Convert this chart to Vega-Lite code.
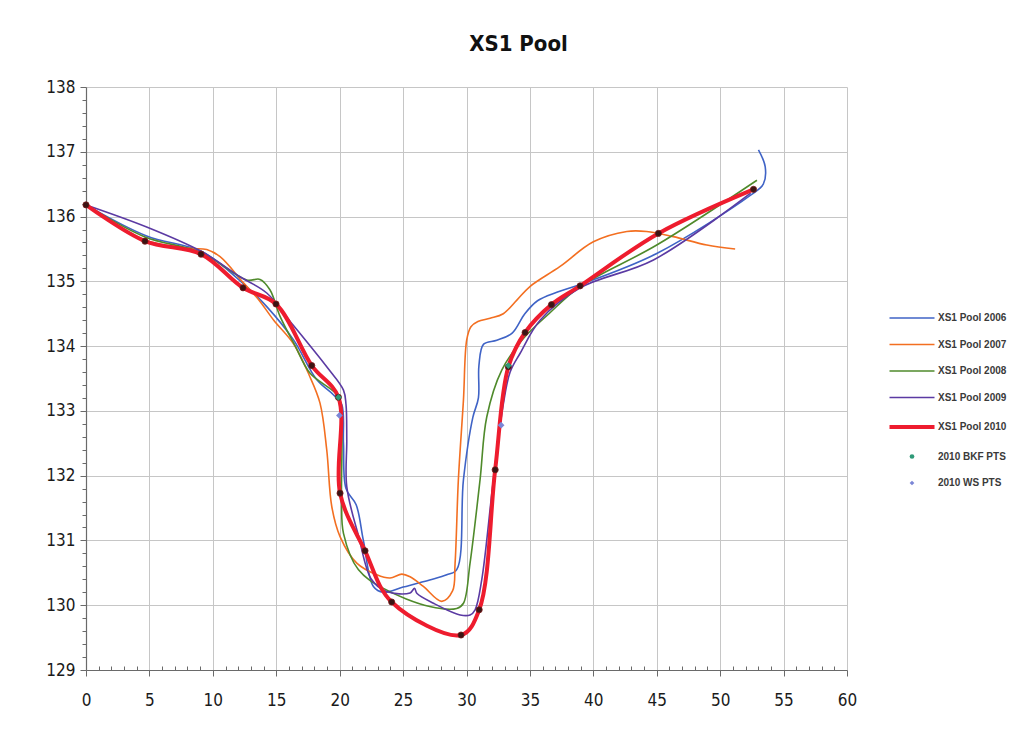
{
  "$schema": "https://vega.github.io/schema/vega-lite/v6.json",
  "width": 761,
  "height": 583,
  "autosize": {"type": "none"},
  "padding": {"left": 86, "top": 87, "right": 179, "bottom": 68},
  "background": "white",
  "config": {"view": {"stroke": null}},
  "title": {"text": "XS1 Pool", "font": "Liberation Sans Narrow, DejaVu Sans Condensed, sans-serif", "fontSize": 22, "fontWeight": "bold", "color": "#111", "anchor": "middle", "frame": "group", "dx": 52, "offset": 22},
  "data": {"values": [
    {"s": "XS1 Pool 2006", "i": 0, "x": 0, "y": 136.18},
    {"s": "XS1 Pool 2006", "i": 1, "x": 4.78, "y": 135.7},
    {"s": "XS1 Pool 2006", "i": 2, "x": 9.12, "y": 135.46},
    {"s": "XS1 Pool 2006", "i": 3, "x": 12.2, "y": 135.0},
    {"s": "XS1 Pool 2006", "i": 4, "x": 14.25, "y": 134.61},
    {"s": "XS1 Pool 2006", "i": 5, "x": 16.35, "y": 134.1},
    {"s": "XS1 Pool 2006", "i": 6, "x": 18.2, "y": 133.48},
    {"s": "XS1 Pool 2006", "i": 7, "x": 19.5, "y": 133.25},
    {"s": "XS1 Pool 2006", "i": 8, "x": 20.16, "y": 133.1},
    {"s": "XS1 Pool 2006", "i": 9, "x": 20.3, "y": 132.5},
    {"s": "XS1 Pool 2006", "i": 10, "x": 20.5, "y": 131.8},
    {"s": "XS1 Pool 2006", "i": 11, "x": 21.3, "y": 131.55},
    {"s": "XS1 Pool 2006", "i": 12, "x": 21.87, "y": 131.0},
    {"s": "XS1 Pool 2006", "i": 13, "x": 22.66, "y": 130.29},
    {"s": "XS1 Pool 2006", "i": 14, "x": 23.45, "y": 130.2},
    {"s": "XS1 Pool 2006", "i": 15, "x": 25.0, "y": 130.28},
    {"s": "XS1 Pool 2006", "i": 16, "x": 27.1, "y": 130.39},
    {"s": "XS1 Pool 2006", "i": 17, "x": 28.44, "y": 130.47},
    {"s": "XS1 Pool 2006", "i": 18, "x": 29.23, "y": 130.55},
    {"s": "XS1 Pool 2006", "i": 19, "x": 29.76, "y": 131.94},
    {"s": "XS1 Pool 2006", "i": 20, "x": 30.5, "y": 132.9},
    {"s": "XS1 Pool 2006", "i": 21, "x": 30.94, "y": 133.2},
    {"s": "XS1 Pool 2006", "i": 22, "x": 30.98, "y": 133.7},
    {"s": "XS1 Pool 2006", "i": 23, "x": 31.35, "y": 134.03},
    {"s": "XS1 Pool 2006", "i": 24, "x": 32.39, "y": 134.09},
    {"s": "XS1 Pool 2006", "i": 25, "x": 33.6, "y": 134.2},
    {"s": "XS1 Pool 2006", "i": 26, "x": 34.6, "y": 134.5},
    {"s": "XS1 Pool 2006", "i": 27, "x": 35.6, "y": 134.7},
    {"s": "XS1 Pool 2006", "i": 28, "x": 37.12, "y": 134.83},
    {"s": "XS1 Pool 2006", "i": 29, "x": 38.96, "y": 134.95},
    {"s": "XS1 Pool 2006", "i": 30, "x": 45.0, "y": 135.43},
    {"s": "XS1 Pool 2006", "i": 31, "x": 52.4, "y": 136.33},
    {"s": "XS1 Pool 2006", "i": 32, "x": 53.4, "y": 136.5},
    {"s": "XS1 Pool 2006", "i": 33, "x": 53.55, "y": 136.77},
    {"s": "XS1 Pool 2006", "i": 34, "x": 53.02, "y": 137.03},
    {"s": "XS1 Pool 2007", "i": 0, "x": 0, "y": 136.18},
    {"s": "XS1 Pool 2007", "i": 1, "x": 4.6, "y": 135.64},
    {"s": "XS1 Pool 2007", "i": 2, "x": 8.2, "y": 135.51},
    {"s": "XS1 Pool 2007", "i": 3, "x": 9.52, "y": 135.49},
    {"s": "XS1 Pool 2007", "i": 4, "x": 10.57, "y": 135.38},
    {"s": "XS1 Pool 2007", "i": 5, "x": 12.4, "y": 134.98},
    {"s": "XS1 Pool 2007", "i": 6, "x": 13.6, "y": 134.72},
    {"s": "XS1 Pool 2007", "i": 7, "x": 14.8, "y": 134.4},
    {"s": "XS1 Pool 2007", "i": 8, "x": 16.35, "y": 134.04},
    {"s": "XS1 Pool 2007", "i": 9, "x": 17.6, "y": 133.55},
    {"s": "XS1 Pool 2007", "i": 10, "x": 18.45, "y": 133.12},
    {"s": "XS1 Pool 2007", "i": 11, "x": 18.98, "y": 132.4},
    {"s": "XS1 Pool 2007", "i": 12, "x": 19.38, "y": 131.52},
    {"s": "XS1 Pool 2007", "i": 13, "x": 20.03, "y": 131.06},
    {"s": "XS1 Pool 2007", "i": 14, "x": 21.35, "y": 130.65},
    {"s": "XS1 Pool 2007", "i": 15, "x": 22.93, "y": 130.47},
    {"s": "XS1 Pool 2007", "i": 16, "x": 23.97, "y": 130.42},
    {"s": "XS1 Pool 2007", "i": 17, "x": 24.9, "y": 130.48},
    {"s": "XS1 Pool 2007", "i": 18, "x": 25.55, "y": 130.44},
    {"s": "XS1 Pool 2007", "i": 19, "x": 26.6, "y": 130.29},
    {"s": "XS1 Pool 2007", "i": 20, "x": 28.05, "y": 130.06},
    {"s": "XS1 Pool 2007", "i": 21, "x": 28.9, "y": 130.22},
    {"s": "XS1 Pool 2007", "i": 22, "x": 29.1, "y": 130.65},
    {"s": "XS1 Pool 2007", "i": 23, "x": 29.36, "y": 131.94},
    {"s": "XS1 Pool 2007", "i": 24, "x": 29.76, "y": 133.17},
    {"s": "XS1 Pool 2007", "i": 25, "x": 30.02, "y": 134.1},
    {"s": "XS1 Pool 2007", "i": 26, "x": 30.35, "y": 134.3},
    {"s": "XS1 Pool 2007", "i": 27, "x": 30.9, "y": 134.38},
    {"s": "XS1 Pool 2007", "i": 28, "x": 31.86, "y": 134.43},
    {"s": "XS1 Pool 2007", "i": 29, "x": 32.9, "y": 134.5},
    {"s": "XS1 Pool 2007", "i": 30, "x": 33.97, "y": 134.71},
    {"s": "XS1 Pool 2007", "i": 31, "x": 35.0, "y": 134.92},
    {"s": "XS1 Pool 2007", "i": 32, "x": 37.38, "y": 135.23},
    {"s": "XS1 Pool 2007", "i": 33, "x": 40.0, "y": 135.61},
    {"s": "XS1 Pool 2007", "i": 34, "x": 42.64, "y": 135.77},
    {"s": "XS1 Pool 2007", "i": 35, "x": 44.2, "y": 135.77},
    {"s": "XS1 Pool 2007", "i": 36, "x": 46.3, "y": 135.69},
    {"s": "XS1 Pool 2007", "i": 37, "x": 48.95, "y": 135.56},
    {"s": "XS1 Pool 2007", "i": 38, "x": 51.18, "y": 135.5},
    {"s": "XS1 Pool 2008", "i": 0, "x": 0, "y": 136.18},
    {"s": "XS1 Pool 2008", "i": 1, "x": 4.6, "y": 135.69},
    {"s": "XS1 Pool 2008", "i": 2, "x": 9.12, "y": 135.44},
    {"s": "XS1 Pool 2008", "i": 3, "x": 12.67, "y": 135.02},
    {"s": "XS1 Pool 2008", "i": 4, "x": 13.72, "y": 135.03},
    {"s": "XS1 Pool 2008", "i": 5, "x": 14.5, "y": 134.87},
    {"s": "XS1 Pool 2008", "i": 6, "x": 15.3, "y": 134.46},
    {"s": "XS1 Pool 2008", "i": 7, "x": 16.5, "y": 134.0},
    {"s": "XS1 Pool 2008", "i": 8, "x": 17.67, "y": 133.58},
    {"s": "XS1 Pool 2008", "i": 9, "x": 19.9, "y": 133.22},
    {"s": "XS1 Pool 2008", "i": 10, "x": 20.15, "y": 132.9},
    {"s": "XS1 Pool 2008", "i": 11, "x": 20.15, "y": 131.6},
    {"s": "XS1 Pool 2008", "i": 12, "x": 20.3, "y": 131.11},
    {"s": "XS1 Pool 2008", "i": 13, "x": 21.47, "y": 130.55},
    {"s": "XS1 Pool 2008", "i": 14, "x": 23.45, "y": 130.26},
    {"s": "XS1 Pool 2008", "i": 15, "x": 27.1, "y": 129.98},
    {"s": "XS1 Pool 2008", "i": 16, "x": 29.23, "y": 129.95},
    {"s": "XS1 Pool 2008", "i": 17, "x": 29.76, "y": 130.03},
    {"s": "XS1 Pool 2008", "i": 18, "x": 30.28, "y": 130.65},
    {"s": "XS1 Pool 2008", "i": 19, "x": 31.07, "y": 131.94},
    {"s": "XS1 Pool 2008", "i": 20, "x": 31.6, "y": 132.91},
    {"s": "XS1 Pool 2008", "i": 21, "x": 32.78, "y": 133.63},
    {"s": "XS1 Pool 2008", "i": 22, "x": 34.5, "y": 134.12},
    {"s": "XS1 Pool 2008", "i": 23, "x": 36.5, "y": 134.5},
    {"s": "XS1 Pool 2008", "i": 24, "x": 38.96, "y": 134.92},
    {"s": "XS1 Pool 2008", "i": 25, "x": 45.0, "y": 135.56},
    {"s": "XS1 Pool 2008", "i": 26, "x": 52.9, "y": 136.56},
    {"s": "XS1 Pool 2009", "i": 0, "x": 0, "y": 136.18},
    {"s": "XS1 Pool 2009", "i": 1, "x": 4.78, "y": 135.84},
    {"s": "XS1 Pool 2009", "i": 2, "x": 9.12, "y": 135.46},
    {"s": "XS1 Pool 2009", "i": 3, "x": 12.15, "y": 135.07},
    {"s": "XS1 Pool 2009", "i": 4, "x": 14.25, "y": 134.82},
    {"s": "XS1 Pool 2009", "i": 5, "x": 16.1, "y": 134.38},
    {"s": "XS1 Pool 2009", "i": 6, "x": 18.98, "y": 133.68},
    {"s": "XS1 Pool 2009", "i": 7, "x": 20.3, "y": 133.32},
    {"s": "XS1 Pool 2009", "i": 8, "x": 20.5, "y": 133.1},
    {"s": "XS1 Pool 2009", "i": 9, "x": 20.56, "y": 132.55},
    {"s": "XS1 Pool 2009", "i": 10, "x": 20.56, "y": 131.83},
    {"s": "XS1 Pool 2009", "i": 11, "x": 21.5, "y": 131.06},
    {"s": "XS1 Pool 2009", "i": 12, "x": 22.5, "y": 130.4},
    {"s": "XS1 Pool 2009", "i": 13, "x": 23.7, "y": 130.21},
    {"s": "XS1 Pool 2009", "i": 14, "x": 25.55, "y": 130.19},
    {"s": "XS1 Pool 2009", "i": 15, "x": 25.9, "y": 130.26},
    {"s": "XS1 Pool 2009", "i": 16, "x": 26.1, "y": 130.18},
    {"s": "XS1 Pool 2009", "i": 17, "x": 27.4, "y": 130.03},
    {"s": "XS1 Pool 2009", "i": 18, "x": 29.5, "y": 129.85},
    {"s": "XS1 Pool 2009", "i": 19, "x": 30.28, "y": 129.85},
    {"s": "XS1 Pool 2009", "i": 20, "x": 30.68, "y": 129.93},
    {"s": "XS1 Pool 2009", "i": 21, "x": 31.2, "y": 130.39},
    {"s": "XS1 Pool 2009", "i": 22, "x": 32.1, "y": 131.9},
    {"s": "XS1 Pool 2009", "i": 23, "x": 32.9, "y": 133.1},
    {"s": "XS1 Pool 2009", "i": 24, "x": 33.44, "y": 133.6},
    {"s": "XS1 Pool 2009", "i": 25, "x": 34.23, "y": 133.89},
    {"s": "XS1 Pool 2009", "i": 26, "x": 35.8, "y": 134.4},
    {"s": "XS1 Pool 2009", "i": 27, "x": 38.96, "y": 134.9},
    {"s": "XS1 Pool 2009", "i": 28, "x": 44.74, "y": 135.33},
    {"s": "XS1 Pool 2009", "i": 29, "x": 52.4, "y": 136.36},
    {"s": "XS1 Pool 2010", "i": 0, "x": 0, "y": 136.18},
    {"s": "XS1 Pool 2010", "i": 1, "x": 4.65, "y": 135.62},
    {"s": "XS1 Pool 2010", "i": 2, "x": 9.07, "y": 135.42},
    {"s": "XS1 Pool 2010", "i": 3, "x": 12.38, "y": 134.9},
    {"s": "XS1 Pool 2010", "i": 4, "x": 14.98, "y": 134.65},
    {"s": "XS1 Pool 2010", "i": 5, "x": 17.8, "y": 133.7},
    {"s": "XS1 Pool 2010", "i": 6, "x": 19.9, "y": 133.21},
    {"s": "XS1 Pool 2010", "i": 7, "x": 20.03, "y": 131.73},
    {"s": "XS1 Pool 2010", "i": 8, "x": 22.0, "y": 130.84},
    {"s": "XS1 Pool 2010", "i": 9, "x": 24.1, "y": 130.05},
    {"s": "XS1 Pool 2010", "i": 10, "x": 29.57, "y": 129.54},
    {"s": "XS1 Pool 2010", "i": 11, "x": 31.0, "y": 129.93},
    {"s": "XS1 Pool 2010", "i": 12, "x": 32.26, "y": 132.09},
    {"s": "XS1 Pool 2010", "i": 13, "x": 33.3, "y": 133.68},
    {"s": "XS1 Pool 2010", "i": 14, "x": 34.62, "y": 134.21},
    {"s": "XS1 Pool 2010", "i": 15, "x": 36.7, "y": 134.64},
    {"s": "XS1 Pool 2010", "i": 16, "x": 38.96, "y": 134.93},
    {"s": "XS1 Pool 2010", "i": 17, "x": 45.13, "y": 135.74},
    {"s": "XS1 Pool 2010", "i": 18, "x": 52.63, "y": 136.42},
    {"s": "2010 BKF PTS", "i": 0, "x": 19.9, "y": 133.21},
    {"s": "2010 BKF PTS", "i": 1, "x": 33.3, "y": 133.7},
    {"s": "2010 WS PTS", "i": 0, "x": 19.98, "y": 132.93},
    {"s": "2010 WS PTS", "i": 1, "x": 32.73, "y": 132.78}
  ]},
  "encoding": {
    "x": {"field": "x", "type": "quantitative",
      "scale": {"domain": [0, 60], "nice": false, "zero": false},
      "axis": {
        "title": null,
        "values": [0,1,2,3,4,5,6,7,8,9,10,11,12,13,14,15,16,17,18,19,20,21,22,23,24,25,26,27,28,29,30,31,32,33,34,35,36,37,38,39,40,41,42,43,44,45,46,47,48,49,50,51,52,53,54,55,56,57,58,59,60],
        "labelExpr": "datum.value % 5 === 0 ? datum.label : ''",
        "labelOverlap": false, "labelFlush": false,
        "labelFont": "Liberation Sans Narrow, DejaVu Sans Condensed, sans-serif",
        "labelFontSize": 17, "labelColor": "#1a1a1a", "labelPadding": 16,
        "grid": true,
        "gridColor": {"condition": {"test": "datum.value % 5 === 0", "value": "#c6c6c6"}, "value": "rgba(0,0,0,0)"},
        "gridWidth": 1,
        "tickSize": {"condition": {"test": "datum.value % 5 === 0", "value": 6}, "value": -4},
        "tickColor": "#6a6a6a", "domainColor": "#6a6a6a", "domainWidth": 1.2
      }},
    "y": {"field": "y", "type": "quantitative",
      "scale": {"domain": [129, 138], "nice": false, "zero": false},
      "axis": {
        "title": null,
        "values": [129,129.2,129.4,129.6,129.8,130,130.2,130.4,130.6,130.8,131,131.2,131.4,131.6,131.8,132,132.2,132.4,132.6,132.8,133,133.2,133.4,133.6,133.8,134,134.2,134.4,134.6,134.8,135,135.2,135.4,135.6,135.8,136,136.2,136.4,136.6,136.8,137,137.2,137.4,137.6,137.8,138],
        "labelExpr": "abs(datum.value - round(datum.value)) < 0.001 ? format(datum.value, 'd') : ''",
        "labelOverlap": false, "labelFlush": false,
        "labelFont": "Liberation Sans Narrow, DejaVu Sans Condensed, sans-serif",
        "labelFontSize": 17, "labelColor": "#1a1a1a", "labelPadding": 5,
        "grid": true,
        "gridColor": {"condition": {"test": "abs(datum.value - round(datum.value)) < 0.001", "value": "#c6c6c6"}, "value": "rgba(0,0,0,0)"},
        "tickSize": {"condition": {"test": "abs(datum.value - round(datum.value)) < 0.001", "value": 6}, "value": 4},
        "tickColor": "#6a6a6a", "domainColor": "#6a6a6a", "domainWidth": 1.2
      }},
    "order": {"field": "i", "type": "quantitative"}
  },
  "layer": [
    {
      "transform": [{"filter": {"field": "s", "oneOf": ["XS1 Pool 2006", "XS1 Pool 2007", "XS1 Pool 2008", "XS1 Pool 2009"]}}],
      "mark": {"type": "line", "interpolate": "catmull-rom", "strokeWidth": 1.6},
      "encoding": {
        "color": {"field": "s", "type": "nominal",
          "scale": {"domain": ["XS1 Pool 2006", "XS1 Pool 2007", "XS1 Pool 2008", "XS1 Pool 2009", "XS1 Pool 2010", "2010 BKF PTS", "2010 WS PTS"],
                    "range": ["#3f63c6", "#f36f21", "#4f8a2b", "#5b3aa3", "#ee1c2e", "#2f9a78", "#7b86d6"]},
          "legend": {
            "title": null, "orient": "none", "legendX": 804, "legendY": 226,
            "padding": 0, "symbolSize": 100, "labelOffset": 38, "rowPadding": 16.5,
            "labelFont": "Liberation Sans, Arial, sans-serif", "labelFontSize": 10, "labelFontWeight": "bold", "labelColor": "#3a3a3a",
            "encode": {"symbols": {"update": {
              "x": {"value": 22},
              "shape": {"signal": "datum.value === '2010 BKF PTS' ? 'circle' : (datum.value === '2010 WS PTS' ? 'diamond' : 'stroke')"},
              "size": {"signal": "(datum.value === '2010 BKF PTS' || datum.value === '2010 WS PTS') ? 22 : 2025"},
              "strokeWidth": {"signal": "datum.value === 'XS1 Pool 2010' ? 4 : (datum.value === '2010 BKF PTS' || datum.value === '2010 WS PTS' ? 0 : 1.6)"},
              "stroke": {"scale": "color", "field": "value"},
              "fill": {"scale": "color", "field": "value"},
              "opacity": {"value": 1}
            }}}
          }}
      }
    },
    {
      "transform": [{"filter": {"field": "s", "equal": "XS1 Pool 2010"}}],
      "mark": {"type": "line", "interpolate": "catmull-rom", "strokeWidth": 4},
      "encoding": {"color": {"field": "s", "type": "nominal"}}
    },
    {
      "transform": [{"filter": {"field": "s", "equal": "XS1 Pool 2010"}}],
      "mark": {"type": "point", "filled": true, "shape": "circle", "size": 38, "color": "#3b1414", "opacity": 1, "stroke": "#7a1a1a", "strokeWidth": 0.8}
    },
    {
      "transform": [{"filter": {"field": "s", "oneOf": ["2010 BKF PTS", "2010 WS PTS"]}}],
      "mark": {"type": "point", "filled": true, "opacity": 1, "size": 45},
      "encoding": {
        "color": {"field": "s", "type": "nominal"},
        "shape": {"field": "s", "type": "nominal", "scale": {"domain": ["2010 BKF PTS", "2010 WS PTS"], "range": ["diamond", "diamond"]}, "legend": null}
      }
    }
  ]
}
